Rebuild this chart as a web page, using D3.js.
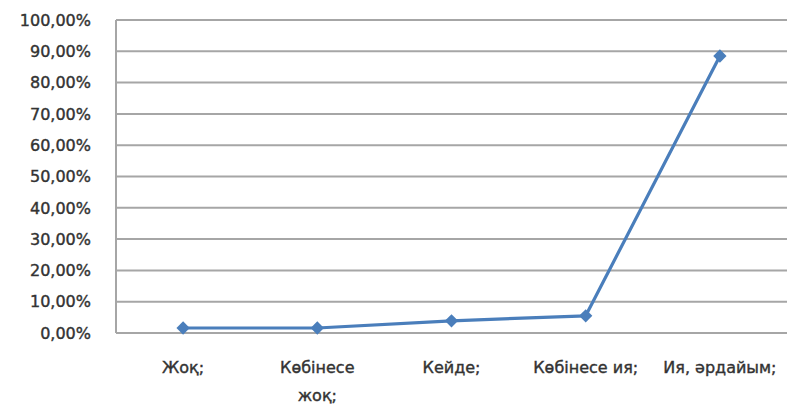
<!DOCTYPE html>
<html><head><meta charset="utf-8">
<script src="https://cdn.jsdelivr.net/npm/d3@7"></script>
<style>body{margin:0;background:#fff}svg{display:block}</style>
</head><body><svg id="c" width="790" height="406"></svg>
<script>
const categories = [["Жоқ;"], ["Көбінесе", "жоқ;"], ["Кейде;"], ["Көбінесе ия;"], ["Ия, әрдайым;"]];
const values = [1.6, 1.6, 3.9, 5.5, 88.5];
const yTicks = [0,10,20,30,40,50,60,70,80,90,100];
const yTickLabels = ["0,00%","10,00%","20,00%","30,00%","40,00%","50,00%","60,00%","70,00%","80,00%","90,00%","100,00%"];

const svg = d3.select("#c");
const m = {left:116, right:787, top:20, bottom:333};
const x = d3.scalePoint().domain(d3.range(categories.length)).range([m.left, m.right]).padding(0.5);
const y = d3.scaleLinear().domain([0,100]).range([m.bottom, m.top]);
const font = "'DejaVu Sans', sans-serif";
const txtColor = "#333";

svg.append("g").selectAll("line").data(yTicks).join("line")
  .attr("x1", m.left).attr("x2", m.right)
  .attr("y1", d=>y(d)).attr("y2", d=>y(d))
  .attr("stroke", "#a6a6a6").attr("stroke-width", 2);
svg.append("line").attr("x1", m.left).attr("x2", m.left).attr("y1", m.top).attr("y2", m.bottom)
  .attr("stroke", "#a6a6a6").attr("stroke-width", 2);

svg.append("g").selectAll("text").data(yTicks).join("text")
  .attr("x", 91).attr("y", d=>y(d)).attr("dy", "0.36em")
  .attr("text-anchor", "end").attr("font-family", font).attr("font-size", 16)
  .attr("fill", txtColor).attr("stroke", txtColor).attr("stroke-width", 0.4)
  .text((d,i)=>yTickLabels[i]);

const lab = svg.append("g").selectAll("text").data(categories).join("text")
  .attr("text-anchor", "middle").attr("font-family", font).attr("font-size", 16)
  .attr("fill", txtColor).attr("stroke", txtColor).attr("stroke-width", 0.4)
  .attr("transform", (d,i)=>`translate(${x(i)},373)`);
lab.selectAll("tspan").data(d=>d).join("tspan").attr("x", 0).attr("dy", (d,i)=>i?"1.75em":0).text(d=>d);

const line = d3.line().x((d,i)=>x(i)).y(d=>y(d));
svg.append("path").datum(values).attr("d", line).attr("fill","none")
  .attr("stroke", "#4a7ebb").attr("stroke-width", 3.2).attr("stroke-linejoin","round");
svg.append("g").selectAll("path").data(values).join("path")
  .attr("d", d3.symbol(d3.symbolSquare, 88))
  .attr("transform", (d,i)=>`translate(${x(i)},${y(d)}) rotate(45)`)
  .attr("fill", "#4a7ebb");
</script></body></html>
